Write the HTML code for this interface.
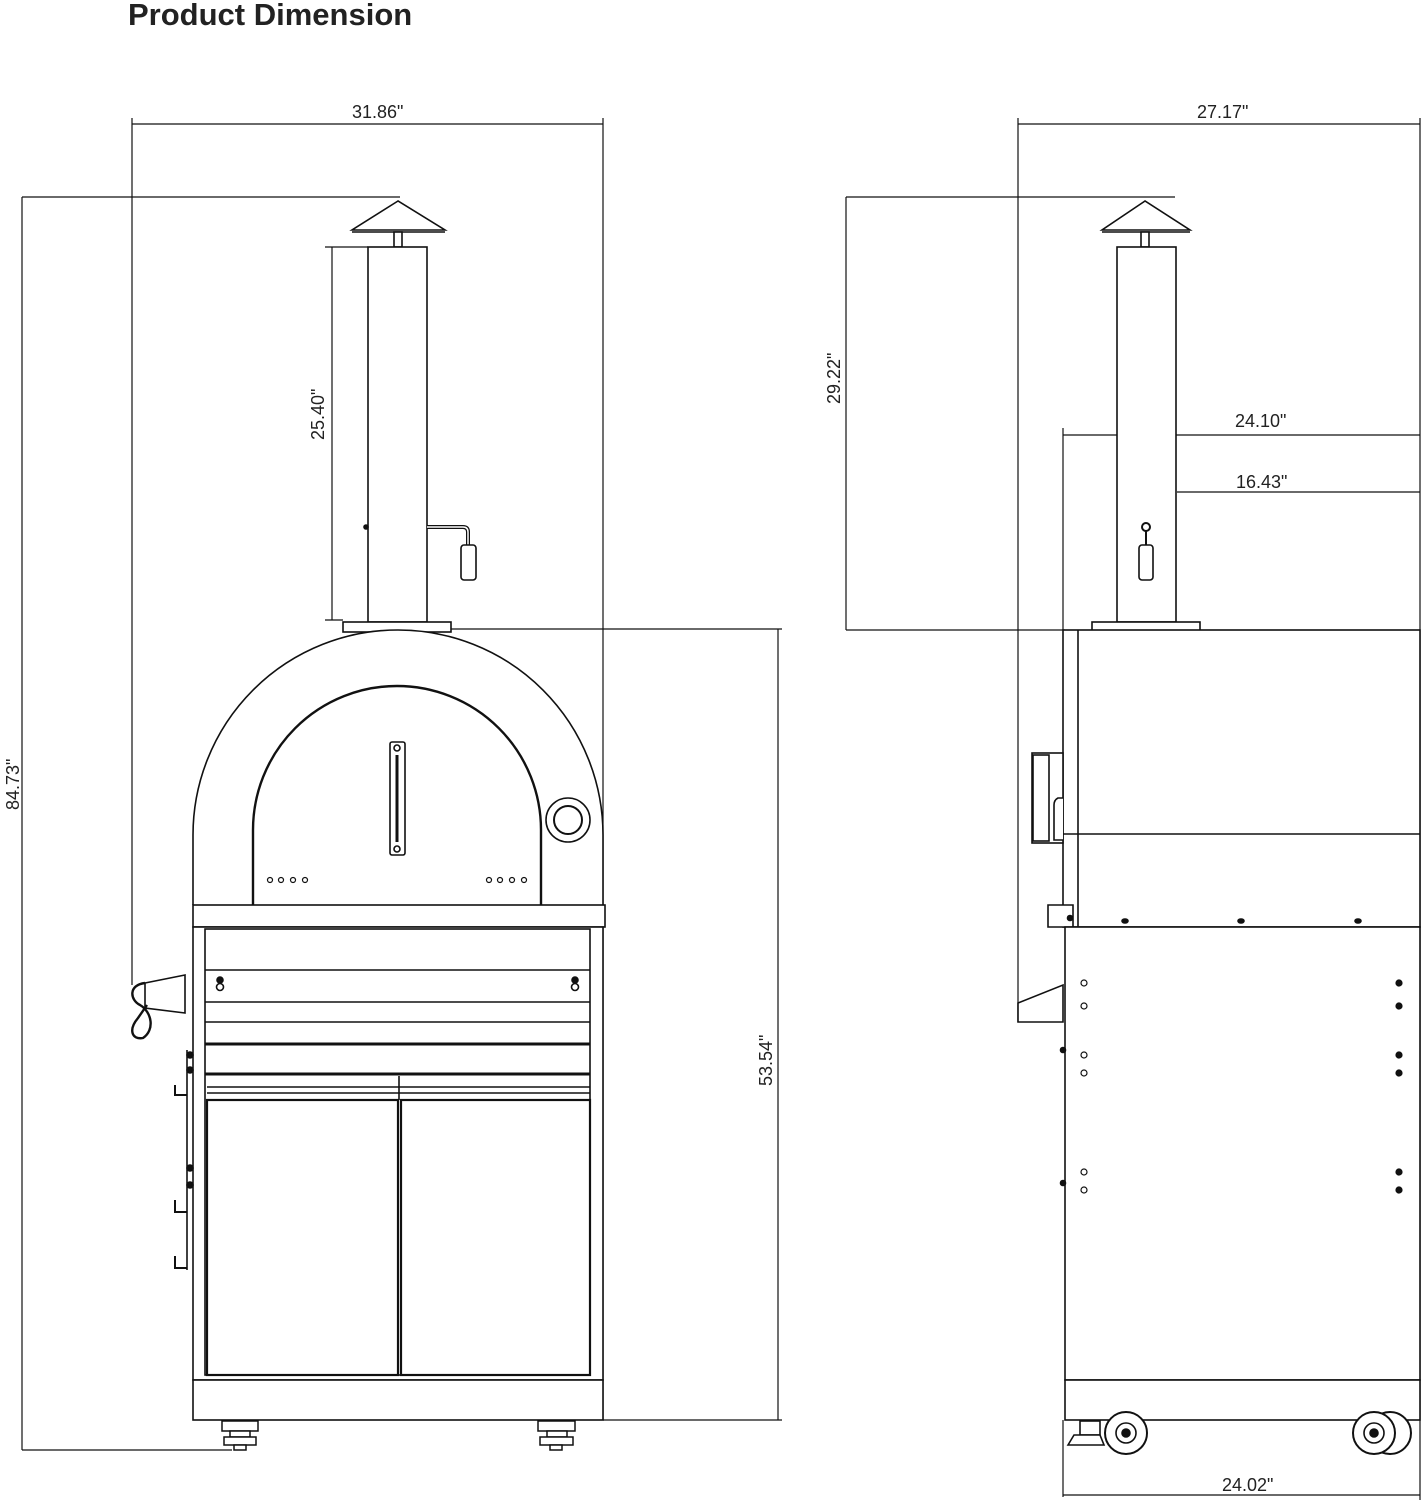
<!DOCTYPE html>
<html><head><meta charset="utf-8"><style>
html,body{margin:0;padding:0;background:#fff;}
svg{display:block;}
text{font-family:"Liberation Sans",sans-serif;fill:#222;}
</style></head><body>
<svg width="1422" height="1500" viewBox="0 0 1422 1500" xmlns="http://www.w3.org/2000/svg">
<text x="128" y="25" font-size="31" font-weight="bold" fill="#111">Product Dimension</text>
<g stroke="#111" fill="none" stroke-width="1.2">
<line x1="132" y1="124" x2="603" y2="124"/>
<line x1="132" y1="118" x2="132" y2="985"/>
<line x1="603" y1="118" x2="603" y2="1420"/>
<line x1="22" y1="197" x2="22" y2="1450"/>
<line x1="22" y1="197" x2="400" y2="197"/>
<line x1="22" y1="1450" x2="232" y2="1450"/>
<line x1="332" y1="247" x2="332" y2="620"/>
<line x1="325" y1="247" x2="368" y2="247"/>
<line x1="325" y1="620" x2="343" y2="620"/>
<line x1="778" y1="629" x2="778" y2="1420"/>
<line x1="450" y1="629" x2="782" y2="629"/>
<line x1="603" y1="1420" x2="782" y2="1420"/>
</g>
<g font-size="18">
<text x="352" y="118">31.86"</text>
<text transform="translate(19,810) rotate(-90)">84.73"</text>
<text transform="translate(324,440) rotate(-90)">25.40"</text>
<text transform="translate(772,1086) rotate(-90)">53.54"</text>
<text x="1197" y="118">27.17"</text>
<text transform="translate(840,404) rotate(-90)">29.22"</text>
<text x="1235" y="427">24.10"</text>
<text x="1236" y="488">16.43"</text>
<text x="1222" y="1491">24.02"</text>
</g>
<g stroke="#111" fill="#fff" stroke-width="1.6">
<polygon points="398,201 352,230 445,230"/>
<line x1="352" y1="232" x2="445" y2="232"/>
<rect x="394" y="232" width="8" height="15"/>
<rect x="368" y="247" width="59" height="375"/>
<circle cx="366" cy="527" r="2" fill="#111"/>
<path d="M427 527 H463 Q468 527 468 532 V545" fill="none" stroke-width="4"/>
<path d="M427 527 H463 Q468 527 468 532 V545" fill="none" stroke="#fff" stroke-width="1.5"/>
<rect x="461" y="545" width="15" height="35" rx="3"/>
<rect x="343" y="622" width="108" height="10"/>
<path d="M193 905 V835 A205 205 0 0 1 603 835 V905" fill="#fff"/>
<path d="M253 905 V830 A144 144 0 0 1 541 830 V905" stroke-width="2.4"/>
<rect x="390" y="742" width="15" height="113" rx="2"/>
<line x1="397" y1="755" x2="397" y2="842" stroke-width="3"/>
<circle cx="397" cy="748" r="3"/><circle cx="397" cy="849" r="3"/>
<circle cx="568" cy="820" r="22"/><circle cx="568" cy="820" r="14" stroke-width="2"/>
<g stroke-width="1.2">
<circle cx="270" cy="880" r="2.5"/><circle cx="281" cy="880" r="2.5"/><circle cx="293" cy="880" r="2.5"/><circle cx="305" cy="880" r="2.5"/>
<circle cx="489" cy="880" r="2.5"/><circle cx="500" cy="880" r="2.5"/><circle cx="512" cy="880" r="2.5"/><circle cx="524" cy="880" r="2.5"/>
</g>
<rect x="193" y="905" width="412" height="22"/>
<rect x="193" y="927" width="410" height="453"/>
<rect x="205" y="929" width="385" height="446"/>
<line x1="205" y1="970" x2="590" y2="970"/>
<line x1="205" y1="1002" x2="590" y2="1002"/>
<line x1="205" y1="1022" x2="590" y2="1022"/>
<line x1="205" y1="1044" x2="590" y2="1044" stroke-width="3"/>
<line x1="205" y1="1074" x2="590" y2="1074" stroke-width="3"/>
<line x1="207" y1="1087" x2="590" y2="1087"/>
<line x1="207" y1="1093" x2="590" y2="1093"/>
<rect x="207" y="1100" width="191" height="275" stroke-width="2.2"/>
<rect x="401" y="1100" width="189" height="275" stroke-width="2.2"/>
<line x1="399" y1="1076" x2="399" y2="1100"/>
<circle cx="220" cy="980" r="3" fill="#111"/><circle cx="220" cy="987" r="3.5"/>
<circle cx="575" cy="980" r="3" fill="#111"/><circle cx="575" cy="987" r="3.5"/>
<rect x="193" y="1380" width="410" height="40"/>
<path d="M185 975 L145 983 L145 1008 L185 1013 Z"/>
<path d="M145 983 C128 985 130 1000 140 1005 C152 1012 155 1030 143 1038 C132 1040 128 1030 138 1018 L147 1005" fill="none" stroke-width="2.4"/>
<path d="M175 1085 V1095 H187 M175 1200 V1212 H187 M175 1256 V1268 H187" fill="none" stroke-width="2"/>
<line x1="187" y1="1050" x2="187" y2="1270"/>
<circle cx="190" cy="1055" r="3" fill="#111"/><circle cx="190" cy="1070" r="3" fill="#111"/>
<circle cx="190" cy="1168" r="3" fill="#111"/><circle cx="190" cy="1185" r="3" fill="#111"/>
<g stroke-width="1.5">
<rect x="222" y="1421" width="36" height="10"/><rect x="230" y="1431" width="20" height="6"/><rect x="224" y="1437" width="32" height="8"/><rect x="234" y="1445" width="12" height="5"/>
<rect x="538" y="1421" width="37" height="10"/><rect x="547" y="1431" width="20" height="6"/><rect x="540" y="1437" width="33" height="8"/><rect x="550" y="1445" width="12" height="5"/>
</g>
</g>
<g stroke="#111" fill="none" stroke-width="1.2">
<line x1="1018" y1="124" x2="1420" y2="124"/>
<line x1="1018" y1="118" x2="1018" y2="1022"/>
<line x1="1420" y1="118" x2="1420" y2="1500"/>
<line x1="846" y1="197" x2="846" y2="630"/>
<line x1="846" y1="197" x2="1175" y2="197"/>
<line x1="846" y1="630" x2="1065" y2="630"/>
<line x1="1063" y1="435" x2="1420" y2="435"/>
<line x1="1063" y1="428" x2="1063" y2="630"/>
<line x1="1177" y1="492" x2="1420" y2="492"/>
<line x1="1063" y1="1495" x2="1420" y2="1495"/>
<line x1="1063" y1="1420" x2="1063" y2="1497"/>
</g>
<g stroke="#111" fill="#fff" stroke-width="1.6">
<polygon points="1145,201 1102,230 1190,230"/>
<line x1="1102" y1="232" x2="1190" y2="232"/>
<rect x="1141" y="232" width="8" height="15"/>
<rect x="1117" y="247" width="59" height="375"/>
<circle cx="1146" cy="527" r="4" stroke-width="2"/>
<line x1="1146" y1="531" x2="1146" y2="545" stroke-width="2"/>
<rect x="1139" y="545" width="14" height="35" rx="3"/>
<rect x="1092" y="622" width="108" height="14"/>
<rect x="1063" y="630" width="357" height="297"/>
<line x1="1078" y1="630" x2="1078" y2="927"/>
<line x1="1063" y1="834" x2="1420" y2="834"/>
<rect x="1032" y="753" width="31" height="90"/>
<rect x="1033" y="755" width="16" height="86"/>
<path d="M1063 798 H1058 Q1054 800 1054 805 V840 H1063"/>
<path d="M1048 927 V905 H1073 V927 Z"/>
<circle cx="1070" cy="918" r="2.5" fill="#111"/>
<ellipse cx="1125" cy="921" rx="3" ry="2" fill="#111"/>
<ellipse cx="1241" cy="921" rx="3" ry="2" fill="#111"/>
<ellipse cx="1358" cy="921" rx="3" ry="2" fill="#111"/>
<rect x="1065" y="927" width="355" height="453"/>
<rect x="1065" y="1380" width="355" height="40"/>
<path d="M1018 1022 V1003 L1063 985 V1022 Z"/>
<g stroke-width="1.2">
<circle cx="1084" cy="983" r="3"/><circle cx="1084" cy="1006" r="3"/>
<circle cx="1084" cy="1055" r="3"/><circle cx="1084" cy="1073" r="3"/>
<circle cx="1084" cy="1172" r="3"/><circle cx="1084" cy="1190" r="3"/>
<circle cx="1399" cy="983" r="3" fill="#111"/><circle cx="1399" cy="1006" r="3" fill="#111"/>
<circle cx="1399" cy="1055" r="3" fill="#111"/><circle cx="1399" cy="1073" r="3" fill="#111"/>
<circle cx="1399" cy="1172" r="3" fill="#111"/><circle cx="1399" cy="1190" r="3" fill="#111"/>
</g>
<circle cx="1063" cy="1050" r="2.5" fill="#111"/><circle cx="1063" cy="1183" r="2.5" fill="#111"/>
<circle cx="1126" cy="1433" r="21" stroke-width="2"/><circle cx="1126" cy="1433" r="10"/><circle cx="1126" cy="1433" r="4" fill="#111"/>
<circle cx="1390" cy="1433" r="21" stroke-width="2"/>
<circle cx="1374" cy="1433" r="21" stroke-width="2"/><circle cx="1374" cy="1433" r="10"/><circle cx="1374" cy="1433" r="4" fill="#111"/>
<rect x="1080" y="1421" width="20" height="14"/>
<path d="M1068 1445 L1074 1435 H1100 L1104 1445 Z"/>
</g>
</svg>
</body></html>
